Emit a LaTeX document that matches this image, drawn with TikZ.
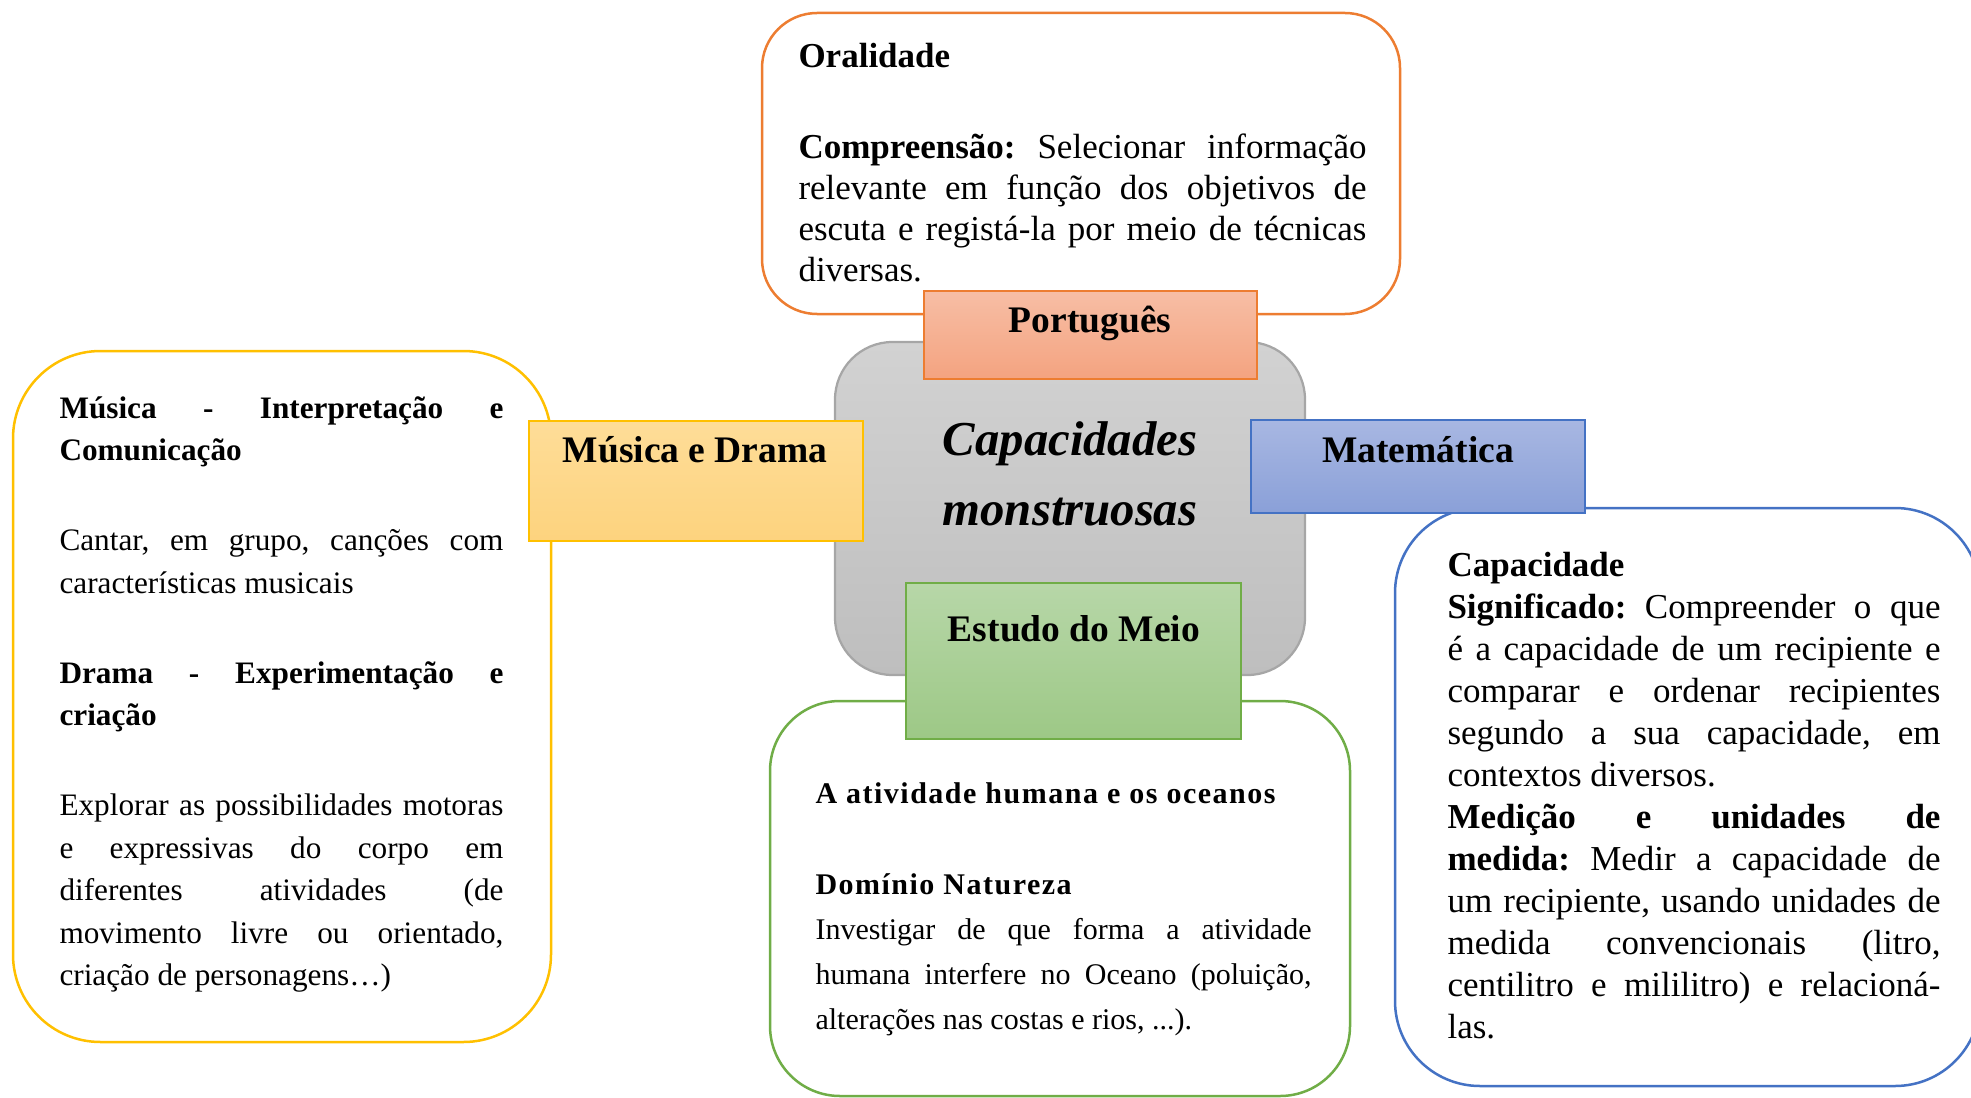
\documentclass[tikz,border=0pt]{standalone}
\usepackage{fontspec}
\setmainfont{Liberation Serif}
\newfontfamily\spacedfont[LetterSpace=5]{Liberation Serif}
\frenchspacing

\definecolor{orangeline}{HTML}{ED7D31}
\definecolor{portTop}{RGB}{247,190,165}
\definecolor{portBot}{RGB}{244,163,128}
\definecolor{grayline}{RGB}{166,166,166}
\definecolor{grayTop}{RGB}{210,210,210}
\definecolor{grayBot}{RGB}{190,190,190}
\definecolor{yellowline}{HTML}{FFC000}
\definecolor{musTop}{RGB}{254,221,152}
\definecolor{musBot}{RGB}{253,211,126}
\definecolor{blueline}{HTML}{4472C4}
\definecolor{matTop}{RGB}{168,183,226}
\definecolor{matBot}{RGB}{138,160,216}
\definecolor{greenline}{HTML}{70AD47}
\definecolor{estTop}{RGB}{183,215,168}
\definecolor{estBot}{RGB}{157,200,134}

\tikzset{bigbox/.style={draw=#1, line width=1pt, fill=white},
	tabbox/.style={draw=#1, line width=0.9pt},
	tabtext/.style={font=\fontsize{15}{18}\selectfont\bfseries, anchor=base, inner sep=0pt},
	notes/.style={anchor=base west, inner sep=0pt, align=justify}}

\begin{document}
\begin{tikzpicture}[x=0.4pt, y=-0.4pt]
				\useasboundingbox (0,0) rectangle (1971,1098);
				\clip (0,0) rectangle (1971,1098);
				% Portugues
				\draw[bigbox=orangeline, rounded corners=22pt] (762,13) rectangle (1400,314);
				\node[notes, text width=227.2pt, font=\fontsize{14}{16.4}\selectfont] (oral) at (798,68)
					{\textbf{Oralidade}\par\vspace{20pt}
					\textbf{Compreensão:} Selecionar informação\linebreak relevante em função dos objetivos de\linebreak escuta e registá-la por meio de técnicas\linebreak diversas.};
				\draw[draw=grayline, line width=0.9pt, top color=grayTop, bottom color=grayBot, rounded corners=23pt] (835,342) rectangle (1305,675);
				\draw[tabbox=orangeline, top color=portTop, bottom color=portBot] (924,291) rectangle (1257,379);
				\node[tabtext] (port) at (1090,332) {Português};
				\node[font=\fontsize{19.5}{22}\selectfont\bfseries\itshape, anchor=base, inner sep=0pt] (cap1) at (1070,455) {Capacidades};
				\node[font=\fontsize{19.5}{22}\selectfont\bfseries\itshape, anchor=base, inner sep=0pt] (cap2) at (1070,525) {monstruosas};
				% Musica e Drama
				\draw[bigbox=yellowline, rounded corners=35pt] (13,351) rectangle (551,1042);
				\node[notes, text width=177.6pt, font=\fontsize{12.5}{17}\selectfont] (musnotes) at (59,418)
					{\textbf{Música - Interpretação e\linebreak Comunicação}\par\vspace{19pt}
					Cantar, em grupo, canções com\linebreak características musicais\par\vspace{19pt}
					\textbf{Drama - Experimentação e\linebreak criação}\par\vspace{19pt}
					Explorar as possibilidades motoras\linebreak e expressivas do corpo em\linebreak diferentes atividades (de\linebreak movimento livre ou orientado,\linebreak criação de personagens…)};
				\draw[tabbox=yellowline, top color=musTop, bottom color=musBot] (529,421) rectangle (863,541);
				\node[tabtext] (mus) at (695,462) {Música e Drama};
				% Matematica
				\draw[bigbox=blueline, rounded corners=34pt] (1395,508) rectangle (1980,1086);
				\node[notes, text width=197.2pt, font=\fontsize{14}{16.8}\selectfont] (matnotes) at (1447,576)
					{\textbf{Capacidade}\par
					\textbf{Significado:} Compreender o que\linebreak é a capacidade de um recipiente e\linebreak comparar e ordenar recipientes\linebreak segundo a sua capacidade, em\linebreak contextos diversos.\par
					\textbf{Medição e unidades de\linebreak medida:} Medir a capacidade de\linebreak um recipiente, usando unidades de\linebreak medida convencionais (litro,\linebreak centilitro e mililitro) e relacioná-\linebreak las.};
				\draw[tabbox=blueline, top color=matTop, bottom color=matBot] (1251,420) rectangle (1585,513);
				\node[tabtext] (mat) at (1418,462) {Matemática};
				% Estudo do Meio
				\draw[bigbox=greenline, rounded corners=28pt] (770,701) rectangle (1350,1096);
				\node[notes, text width=198.4pt, font=\fontsize{12}{18}\selectfont] (estnotes) at (815,803)
					{{\spacedfont\bfseries A atividade humana e os oceanos}\par\vspace{18.4pt}
					{\spacedfont\bfseries Domínio Natureza}\par
					Investigar de que forma a atividade\linebreak humana interfere no Oceano (poluição,\linebreak alterações nas costas e rios, ...).};
				\draw[tabbox=greenline, top color=estTop, bottom color=estBot] (906,583) rectangle (1241,739);
				\node[tabtext] (est) at (1074,641) {Estudo do Meio};
			\end{tikzpicture}
\end{document}
